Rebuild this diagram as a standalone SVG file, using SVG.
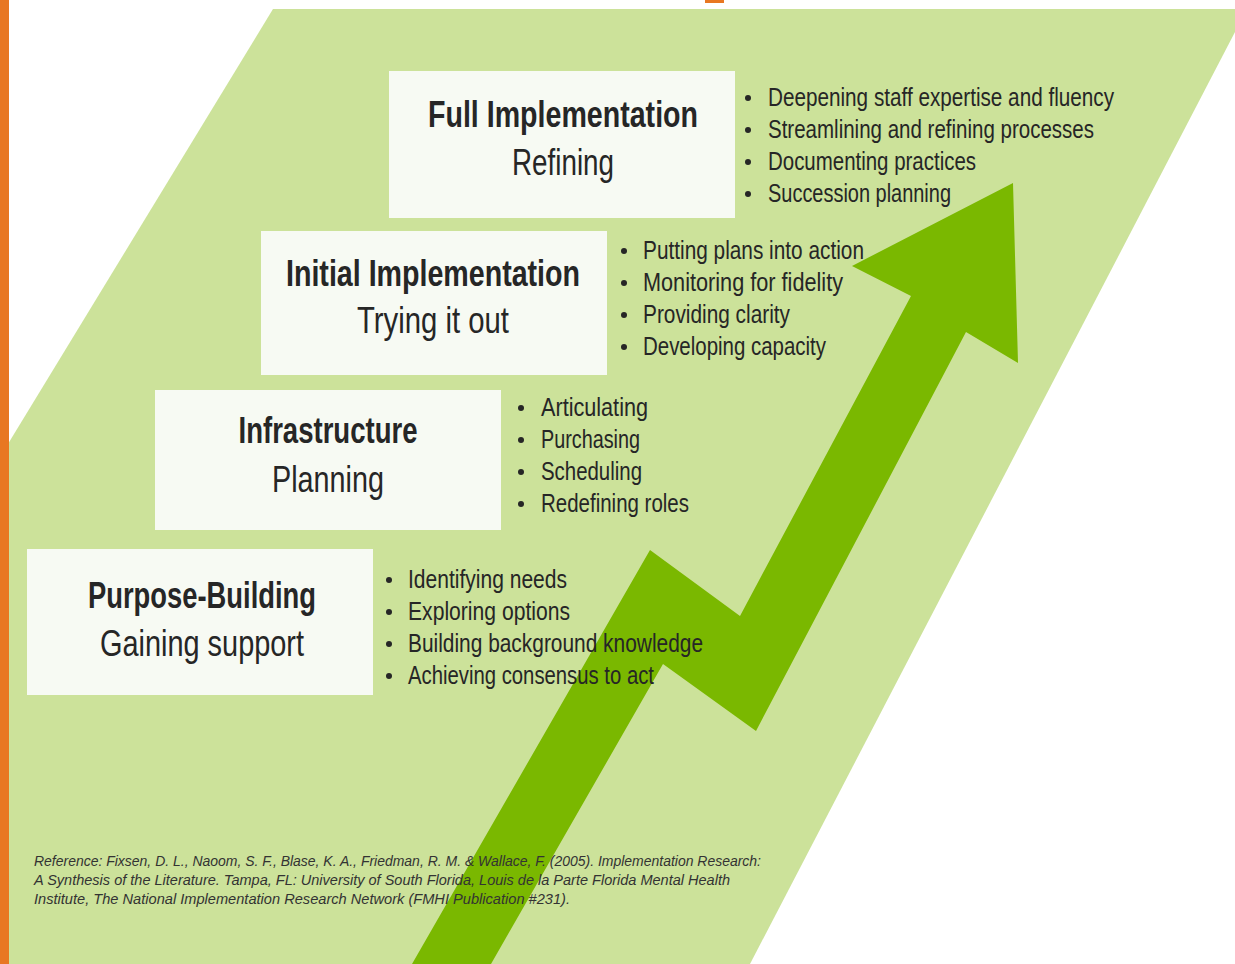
<svg xmlns="http://www.w3.org/2000/svg" width="1235" height="964" viewBox="0 0 1235 964">
  <style>
    .bg { fill: #ffffff; }
    .band { fill: #cce29a; }
    .accent { fill: #e87722; }
    .arrow { fill: #7ab800; }
    .box { fill: #f7faf3; }
    .dot { fill: #262626; }
    text { font-family: "Liberation Sans", "DejaVu Sans", sans-serif; fill: #262626; }
    .title { font-size: 37px; font-weight: bold; text-anchor: middle; }
    .sub { font-size: 37px; text-anchor: middle; }
    .item { font-size: 25px; }
    .ref { font-size: 15px; font-style: italic; fill: #333333; }
  </style>

  <defs>
    <circle id="bullet" class="dot" cx="0" cy="0" r="3"/>
  </defs>

  <rect class="bg" x="0" y="0" width="1235" height="964"/>

  <!-- slanted background band -->
  <polygon class="band" points="273,9 1247,9 750,964 0,964 0,457"/>

  <!-- orange accents -->
  <rect class="accent" x="0" y="0" width="9" height="964"/>
  <rect class="accent" x="705" y="0" width="19" height="3"/>

  <!-- zigzag growth arrow -->
  <g id="progress-arrow">
    <polygon class="arrow" points="412,964 650,550 740,616 911,296 852,266 1013,183 1018,363 966,332 756,731 663,664 491,964"/>
  </g>

  <!-- stage 4 -->
  <g id="full-implementation">
    <rect class="box" x="389" y="71" width="346" height="147"/>
    <text class="title" x="563" y="127" textLength="270" lengthAdjust="spacingAndGlyphs">Full Implementation</text>
    <text class="sub" x="563" y="175" textLength="102" lengthAdjust="spacingAndGlyphs">Refining</text>
    <use href="#bullet" x="748" y="98"/>
    <use href="#bullet" x="748" y="130"/>
    <use href="#bullet" x="748" y="162"/>
    <use href="#bullet" x="748" y="194"/>
    <text class="item" x="768" y="106" textLength="346" lengthAdjust="spacingAndGlyphs">Deepening staff expertise and fluency</text>
    <text class="item" x="768" y="138" textLength="326" lengthAdjust="spacingAndGlyphs">Streamlining and refining processes</text>
    <text class="item" x="768" y="170" textLength="208" lengthAdjust="spacingAndGlyphs">Documenting practices</text>
    <text class="item" x="768" y="202" textLength="183" lengthAdjust="spacingAndGlyphs">Succession planning</text>
  </g>

  <!-- stage 3 -->
  <g id="initial-implementation">
    <rect class="box" x="261" y="231" width="346" height="144"/>
    <text class="title" x="433" y="286" textLength="294" lengthAdjust="spacingAndGlyphs">Initial Implementation</text>
    <text class="sub" x="433" y="333" textLength="152" lengthAdjust="spacingAndGlyphs">Trying it out</text>
    <use href="#bullet" x="624" y="251"/>
    <use href="#bullet" x="624" y="283"/>
    <use href="#bullet" x="624" y="315"/>
    <use href="#bullet" x="624" y="347"/>
    <text class="item" x="643" y="259" textLength="221" lengthAdjust="spacingAndGlyphs">Putting plans into action</text>
    <text class="item" x="643" y="291" textLength="200" lengthAdjust="spacingAndGlyphs">Monitoring for fidelity</text>
    <text class="item" x="643" y="323" textLength="147" lengthAdjust="spacingAndGlyphs">Providing clarity</text>
    <text class="item" x="643" y="355" textLength="183" lengthAdjust="spacingAndGlyphs">Developing capacity</text>
  </g>

  <!-- stage 2 -->
  <g id="infrastructure">
    <rect class="box" x="155" y="390" width="346" height="140"/>
    <text class="title" x="328" y="443" textLength="179" lengthAdjust="spacingAndGlyphs">Infrastructure</text>
    <text class="sub" x="328" y="492" textLength="112" lengthAdjust="spacingAndGlyphs">Planning</text>
    <use href="#bullet" x="521" y="408"/>
    <use href="#bullet" x="521" y="440"/>
    <use href="#bullet" x="521" y="472"/>
    <use href="#bullet" x="521" y="504"/>
    <text class="item" x="541" y="416" textLength="107" lengthAdjust="spacingAndGlyphs">Articulating</text>
    <text class="item" x="541" y="448" textLength="99" lengthAdjust="spacingAndGlyphs">Purchasing</text>
    <text class="item" x="541" y="480" textLength="101" lengthAdjust="spacingAndGlyphs">Scheduling</text>
    <text class="item" x="541" y="512" textLength="148" lengthAdjust="spacingAndGlyphs">Redefining roles</text>
  </g>

  <!-- stage 1 -->
  <g id="purpose-building">
    <rect class="box" x="27" y="549" width="346" height="146"/>
    <text class="title" x="202" y="608" textLength="228" lengthAdjust="spacingAndGlyphs">Purpose-Building</text>
    <text class="sub" x="202" y="656" textLength="204" lengthAdjust="spacingAndGlyphs">Gaining support</text>
    <use href="#bullet" x="389" y="580"/>
    <use href="#bullet" x="389" y="612"/>
    <use href="#bullet" x="389" y="644"/>
    <use href="#bullet" x="389" y="676"/>
    <text class="item" x="408" y="588" textLength="159" lengthAdjust="spacingAndGlyphs">Identifying needs</text>
    <text class="item" x="408" y="620" textLength="162" lengthAdjust="spacingAndGlyphs">Exploring options</text>
    <text class="item" x="408" y="652" textLength="295" lengthAdjust="spacingAndGlyphs">Building background knowledge</text>
    <text class="item" x="408" y="684" textLength="246" lengthAdjust="spacingAndGlyphs">Achieving consensus to act</text>
  </g>

  <!-- citation -->
  <g id="reference">
    <text class="ref" x="34" y="866" textLength="727" lengthAdjust="spacingAndGlyphs">Reference: Fixsen, D. L., Naoom, S. F., Blase, K. A., Friedman, R. M. &amp; Wallace, F. (2005). Implementation Research:</text>
    <text class="ref" x="34" y="885" textLength="696" lengthAdjust="spacingAndGlyphs">A Synthesis of the Literature. Tampa, FL: University of South Florida, Louis de la Parte Florida Mental Health</text>
    <text class="ref" x="34" y="904" textLength="536" lengthAdjust="spacingAndGlyphs">Institute, The National Implementation Research Network (FMHI Publication #231).</text>
  </g>
</svg>
